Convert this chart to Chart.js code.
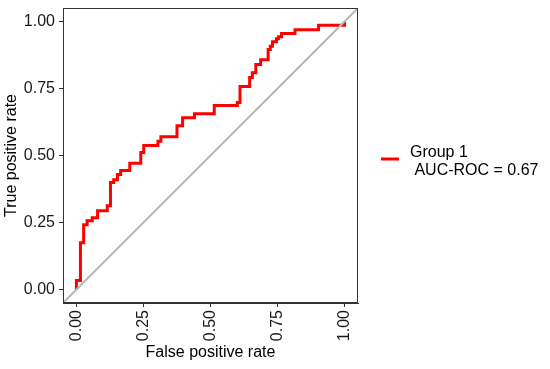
<!DOCTYPE html>
<html>
<head>
<meta charset="utf-8">
<title>ROC curve</title>
<script src="https://cdn.jsdelivr.net/npm/chart.js@4.4.0/dist/chart.umd.min.js"></script>
<style>
    html, body { margin: 0; padding: 0; background: #ffffff; }
    #wrap { width: 550px; height: 369px; }
</style>
</head>
<body>
<div id="wrap"><canvas id="rocChart" width="550" height="369"></canvas></div>
<script>
// ROC curve vertices (false positive rate / true positive rate)
const fpr = [0, 0, 0.015, 0.015, 0.027, 0.027, 0.040, 0.040, 0.059, 0.059,
    0.079, 0.079, 0.115, 0.115, 0.127, 0.127, 0.139, 0.139, 0.153, 0.153,
    0.165, 0.165, 0.199, 0.199, 0.240, 0.240, 0.251, 0.251, 0.304, 0.304,
    0.315, 0.315, 0.375, 0.375, 0.396, 0.396, 0.440, 0.440, 0.514, 0.514,
    0.600, 0.600, 0.610, 0.610, 0.646, 0.646, 0.656, 0.656, 0.669, 0.669,
    0.687, 0.687, 0.715, 0.715, 0.723, 0.723, 0.731, 0.731, 0.746, 0.746,
    0.754, 0.754, 0.765, 0.765, 0.815, 0.815, 0.903, 0.903, 1.0, 1.0];
const tpr = [0, 0.034, 0.034, 0.175, 0.175, 0.242, 0.242, 0.257, 0.257, 0.268,
    0.268, 0.294, 0.294, 0.313, 0.313, 0.399, 0.399, 0.410, 0.410, 0.429,
    0.429, 0.444, 0.444, 0.471, 0.471, 0.511, 0.511, 0.537, 0.537, 0.553,
    0.553, 0.570, 0.570, 0.611, 0.611, 0.641, 0.641, 0.656, 0.656, 0.686,
    0.686, 0.698, 0.698, 0.757, 0.757, 0.791, 0.791, 0.809, 0.809, 0.839,
    0.839, 0.857, 0.857, 0.895, 0.895, 0.907, 0.907, 0.924, 0.924, 0.935,
    0.935, 0.943, 0.943, 0.955, 0.955, 0.969, 0.969, 0.986, 0.986, 1.0];

// chance line, spans the whole panel
const diagonal = [-0.05, 1.05];

const tickValues = [0, 0.25, 0.5, 0.75, 1];
const axisRange = [-0.05, 1.05];

const groupLabel = 'Group 1';
const aucLabel = ' AUC-ROC = 0.67';
const xTitle = 'False positive rate';
const yTitle = 'True positive rate';

const fontFamily = 'Arial, "Liberation Sans", sans-serif';
const curveColor = '#ff0000';

// panel border + custom two line legend
const panelAndLegend = {
    id: 'panelAndLegend',
    afterDraw(chart) {
        const ctx = chart.ctx;
        const area = chart.chartArea;
        ctx.save();
        ctx.strokeStyle = '#333333';
        ctx.lineWidth = 1;
        ctx.strokeRect(area.left + 0.5, area.top + 0.5,
            area.right - area.left - 1, area.bottom - area.top - 1);

        const lx = area.right + 23;
        const ly = 159;
        ctx.strokeStyle = curveColor;
        ctx.lineWidth = 3;
        ctx.beginPath();
        ctx.moveTo(lx, ly);
        ctx.lineTo(lx + 18, ly);
        ctx.stroke();

        ctx.fillStyle = '#000000';
        ctx.font = '16px ' + fontFamily;
        ctx.textBaseline = 'alphabetic';
        ctx.textAlign = 'left';
        ctx.fillText(groupLabel, lx + 29, 157);
        ctx.fillText(aucLabel, lx + 29, 175);
        ctx.restore();
    }
};

function fixedTicks(scale) {
    scale.ticks = tickValues.map(v => ({ value: v }));
}

document.addEventListener('DOMContentLoaded', function() {
    const ctx = document.getElementById('rocChart');

    new Chart(ctx, {
        type: 'scatter',
        data: {
            datasets: [
                {
                    label: 'chance',
                    data: diagonal.map(v => ({ x: v, y: v })),
                    showLine: true,
                    borderColor: '#b8b8b8',
                    borderWidth: 2,
                    pointRadius: 0,
                    order: 0
                },
                {
                    label: groupLabel,
                    data: fpr.map((x, i) => ({ x: x, y: tpr[i] })),
                    showLine: true,
                    borderColor: curveColor,
                    borderWidth: 3,
                    borderJoinStyle: 'miter',
                    borderCapStyle: 'butt',
                    pointRadius: 0,
                    order: 1
                }
            ]
        },
        options: {
            responsive: false,
            animation: false,
            devicePixelRatio: 1,
            layout: { padding: { top: 8, right: 192, left: 0, bottom: 0 } },
            plugins: {
                legend: { display: false },
                tooltip: { enabled: false }
            },
            scales: {
                x: {
                    type: 'linear',
                    min: axisRange[0],
                    max: axisRange[1],
                    afterBuildTicks: fixedTicks,
                    afterFit: function(scale) {
                        scale.height = 66;
                        scale.paddingLeft = 0;
                        scale.paddingRight = 0;
                    },
                    grid: {
                        drawOnChartArea: false,
                        color: '#333333',
                        tickLength: 4
                    },
                    border: { display: true, color: '#333333', width: 1 },
                    ticks: {
                        minRotation: 90,
                        maxRotation: 90,
                        padding: 3,
                        color: '#1a1a1a',
                        font: { family: fontFamily, size: 16 },
                        callback: v => Number(v).toFixed(2)
                    },
                    title: {
                        display: true,
                        text: xTitle,
                        color: '#000000',
                        padding: { top: 0, bottom: 7 },
                        font: { family: fontFamily, size: 16 }
                    }
                },
                y: {
                    type: 'linear',
                    min: axisRange[0],
                    max: axisRange[1],
                    afterBuildTicks: fixedTicks,
                    afterFit: function(scale) {
                        scale.width = 63;
                        scale.paddingTop = 0;
                        scale.paddingBottom = 0;
                    },
                    grid: {
                        drawOnChartArea: false,
                        color: '#333333',
                        tickLength: 4
                    },
                    border: { display: true, color: '#333333', width: 1 },
                    ticks: {
                        padding: 4,
                        color: '#1a1a1a',
                        font: { family: fontFamily, size: 16 },
                        callback: v => Number(v).toFixed(2)
                    },
                    title: {
                        display: true,
                        text: yTitle,
                        color: '#000000',
                        padding: { top: 2, bottom: 0 },
                        font: { family: fontFamily, size: 16 }
                    }
                }
            }
        },
        plugins: [panelAndLegend]
    });
});
</script>
</body>
</html>
